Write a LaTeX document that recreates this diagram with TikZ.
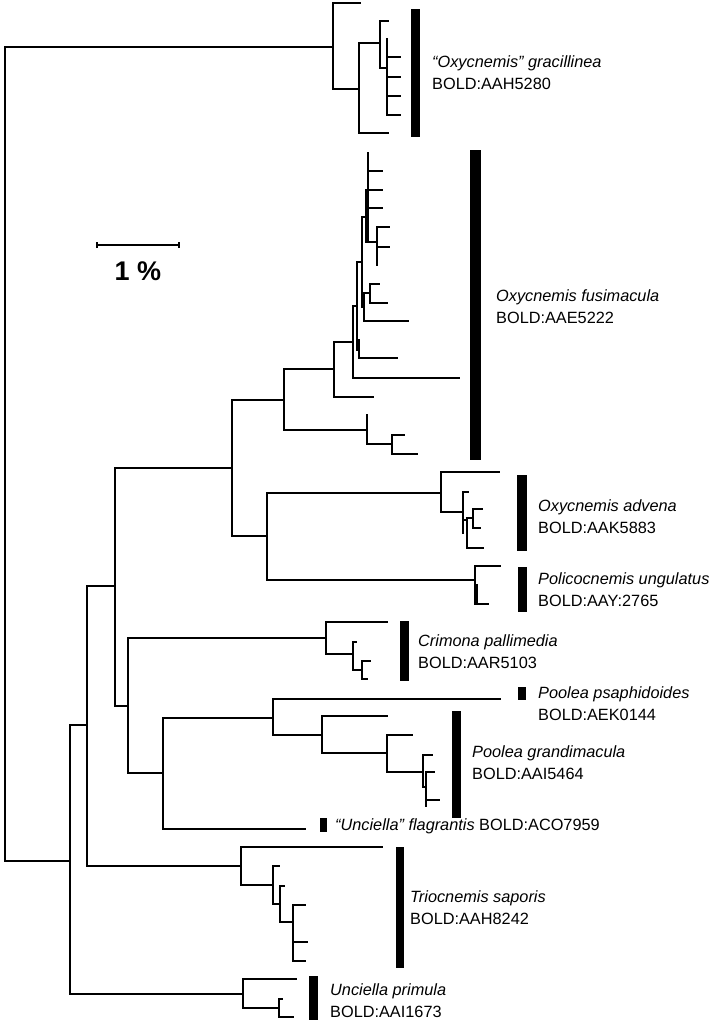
\documentclass[tikz,border=0pt]{standalone}
\usepackage{fontspec}
\setmainfont{Liberation Sans}
\begin{document}
\begin{tikzpicture}[x=1pt,y=-1pt,
  br/.style={line width=1.5pt, line cap=rect},
  bar/.style={fill=black},
  lab/.style={anchor=west, align=left, inner sep=0pt, font=\fontsize{16.3}{22}\selectfont},
  lab1/.style={anchor=west, inner sep=0pt, font=\fontsize{16.3}{22}\selectfont}]
\useasboundingbox (0,0) rectangle (720,1024);
% root
\draw[br] (5,47)--(5,861) (5,47)--(333,47) (5,861)--(70,861);
% gracillinea
\draw[br] (333,3)--(333,89) (333,3)--(360,3) (333,89)--(359,89);
\draw[br] (359,43)--(359,133) (359,43)--(380,43) (359,133)--(388,133);
\draw[br] (380,21)--(380,68) (380,21)--(388,21) (380,68)--(387,68);
\draw[br] (387,39)--(387,115) (387,57)--(400,57) (387,77)--(400,77) (387,96)--(400,96) (387,115)--(400,115);
% lower backbone
\draw[br] (70,725)--(70,994) (70,725)--(87,725) (70,994)--(243,994);
\draw[br] (87,586)--(87,866) (87,586)--(115,586) (87,866)--(241,866);
% triocnemis
\draw[br] (241,847)--(241,885) (241,847)--(382,847) (241,885)--(273,885);
\draw[br] (273,866)--(273,904) (273,866)--(279,866) (273,904)--(280,904);
\draw[br] (280,886)--(280,922) (280,886)--(284,886) (280,922)--(293,922);
\draw[br] (293,905)--(293,961) (293,905)--(305,905) (293,942)--(307,942) (293,961)--(305,961);
% unciella primula
\draw[br] (243,979)--(243,1008) (243,979)--(296,979) (243,1008)--(279,1008);
\draw[br] (279,999)--(279,1017) (279,999)--(282,999) (279,1017)--(293,1017);
% node 115
\draw[br] (115,468)--(115,706) (115,468)--(232,468) (115,706)--(128,706);
\draw[br] (128,638)--(128,773) (128,638)--(326,638) (128,773)--(163,773);
% crimona
\draw[br] (326,622)--(326,654) (326,622)--(387,622) (326,654)--(353,654);
\draw[br] (353,642)--(353,670) (353,642)--(356,642) (353,670)--(362,670);
\draw[br] (362,661)--(362,679) (362,661)--(370,661) (362,679)--(367,679);
% poolea + flagrantis
\draw[br] (163,718)--(163,829) (163,718)--(273,718) (163,829)--(305,829);
\draw[br] (273,699)--(273,735) (273,699)--(500,699) (273,735)--(322,735);
\draw[br] (322,716)--(322,753) (322,716)--(387,716) (322,753)--(387,753);
\draw[br] (387,735)--(387,772) (387,735)--(412,735) (387,772)--(423,772);
\draw[br] (423,755)--(423,787) (423,755)--(432,755) (423,787)--(426,787);
\draw[br] (426,772)--(426,806) (426,772)--(434,772) (426,800)--(439,800);
% node 232
\draw[br] (232,400)--(232,536) (232,400)--(284,400) (232,536)--(267,536);
\draw[br] (267,493)--(267,580) (267,493)--(441,493) (267,580)--(475,580);
% advena
\draw[br] (441,472)--(441,512) (441,472)--(499,472) (441,512)--(463,512);
\draw[br] (463,492)--(463,533) (463,492)--(468,492) (463,520)--(467,520);
\draw[br] (467,518)--(467,548) (467,548)--(483,548) (467,518)--(473,518);
\draw[br] (473,509)--(473,528) (473,509)--(482,509) (473,528)--(480,528);
% policocnemis
\draw[br] (475,566)--(475,604) (475,566)--(500,566) (475,604)--(488,604) (477,585)--(477,604);
% fusimacula
\draw[br] (284,369)--(284,430) (284,369)--(334,369) (284,430)--(367,430);
\draw[br] (334,342)--(334,397) (334,342)--(353,342) (334,397)--(373,397);
\draw[br] (353,306)--(353,378) (353,306)--(357,306) (353,378)--(459,378);
\draw[br] (357,262)--(357,350) (357,262)--(362,262) (357,350)--(359,350);
\draw[br] (359,340)--(359,358) (359,358)--(397,358);
\draw[br] (362,217)--(362,307) (362,217)--(366,217) (362,307)--(364,307);
\draw[br] (364,293)--(364,321) (364,293)--(370,293) (364,321)--(408,321);
\draw[br] (370,284)--(370,303) (370,284)--(379,284) (370,303)--(387,303);
\draw[br] (366,190)--(366,242);
\draw[br] (368,153)--(368,242) (368,171)--(382,171) (368,190)--(382,190) (368,208)--(382,208) (368,242)--(377,242);
\draw[br] (377,227)--(377,265) (377,227)--(389,227) (377,247)--(389,247);
\draw[br] (367,415)--(367,444) (367,444)--(392,444);
\draw[br] (392,435)--(392,454) (392,435)--(404,435) (392,454)--(417,454);
% bars
\fill[bar] (411,9) rectangle (420,137);
\fill[bar] (470,150) rectangle (481,460);
\fill[bar] (517,475) rectangle (527,551);
\fill[bar] (518,567) rectangle (527,612);
\fill[bar] (400,621) rectangle (409,681);
\fill[bar] (518,687) rectangle (526,700);
\fill[bar] (452,711) rectangle (461,818);
\fill[bar] (320,818) rectangle (327,832);
\fill[bar] (396,847) rectangle (404,968);
\fill[bar] (309,976) rectangle (318,1020);
% labels
\node[lab] (lgrac) at (432,73) {\textit{“Oxycnemis” gracillinea}\\BOLD:AAH5280};
\node[lab] (lfusi) at (496,307) {\textit{Oxycnemis fusimacula}\\BOLD:AAE5222};
\node[lab] (ladv) at (538,517) {\textit{Oxycnemis advena}\\BOLD:AAK5883};
\node[lab] (lpol) at (538,590) {\textit{Policocnemis ungulatus}\\BOLD:AAY:2765};
\node[lab] (lcri) at (418,652) {\textit{Crimona pallimedia}\\BOLD:AAR5103};
\node[lab] (lpsa) at (538,704) {\textit{Poolea psaphidoides}\\BOLD:AEK0144};
\node[lab] (lgra) at (472,763) {\textit{Poolea grandimacula}\\BOLD:AAI5464};
\node[lab1] (lfla) at (335,826) {\textit{“Unciella” flagrantis} BOLD:ACO7959};
\node[lab] (ltri) at (410,908) {\textit{Triocnemis saporis}\\BOLD:AAH8242};
\node[lab] (lpri) at (330,1001) {\textit{Unciella primula}\\BOLD:AAI1673};
% scale bar
\coordinate (sa) at (97,245);
\coordinate (sb) at (179,245);
\draw[line width=1.2pt] (sa)--(sb) ([yshift=-3]sa)--([yshift=3]sa) ([yshift=-3]sb)--([yshift=3]sb);
\node[font=\fontsize{27}{30}\selectfont\bfseries, inner sep=0pt] (scl) at (138,271) {1 \%};
\end{tikzpicture}
\end{document}
